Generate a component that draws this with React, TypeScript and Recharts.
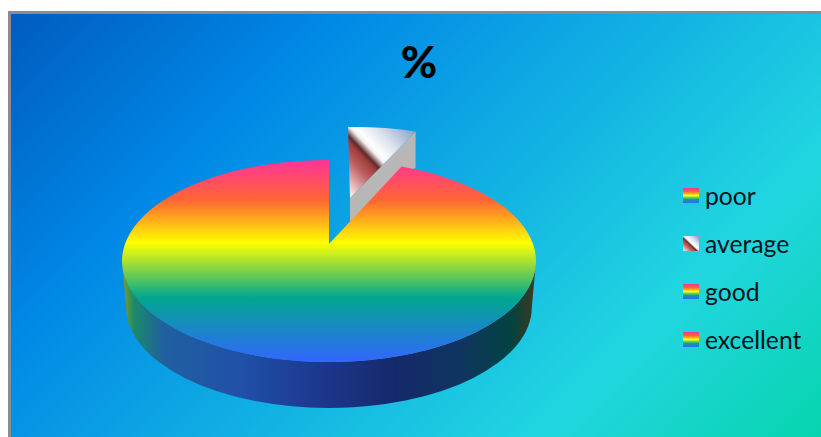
import React from 'react';
import { PieChart, Pie, Cell, Legend } from 'recharts';

const categories = ['poor', 'average', 'good', 'excellent'];
const percentValues = [0, 5.7, 0, 94.3];
const chartTitle = '%';
const explodedCategory = 'average';

const pieData = categories.map((name, i) => ({ name, value: percentValues[i] }));

const TILT = 101 / 207;
const APEX_LIFT = 17;
const DEPTH = 46;
const BASE_SCALE = 0.98;

const ell = (cx: number, cy: number, r: number, deg: number, dx = 0, dy = 0) => {
  const a = (deg * Math.PI) / 180;
  return [cx + r * Math.cos(a) + dx, cy - r * TILT * Math.sin(a) + dy];
};
const f = (n: number) => n.toFixed(2);

function PieSlice(props: any) {
  const { cx, cy, outerRadius: r, startAngle, endAngle, name, payload } = props;
  const label = name ?? payload?.name;
  if (Math.abs(startAngle - endAngle) < 0.01) return null;
  const ry = r * TILT;
  if (label === explodedCategory) {
    const [ax, ay] = ell(cx, cy, r, startAngle, 19, -33);
    const [bx, by] = ell(cx, cy, r, endAngle, 14, -35);
    const apexX = cx + 21;
    const apexY = cy - APEX_LIFT - 46;
    const faceBottomY = apexY + 24;
    return (
      <g>
        <path d={`M${f(bx)} ${f(by)} L${f(bx)} ${f(by + 36)} L${f(apexX)} ${f(faceBottomY)} L${f(apexX)} ${f(apexY)} Z`} fill="#b7b7b7" />
        <path d={`M${f(apexX)} ${f(apexY)} L${f(ax)} ${f(ay)} A${f(r)} ${f(ry)} 0 0 1 ${f(bx)} ${f(by)} Z`} fill="url(#averageFill)" />
      </g>
    );
  }
  const [ax, ay] = ell(cx, cy, r, startAngle);
  const [bx, by] = ell(cx, cy, r, endAngle);
  const large = Math.abs(startAngle - endAngle) > 180 ? 1 : 0;
  const r2 = r * BASE_SCALE;
  const wall = `M${f(cx - r)} ${f(cy)} A${f(r)} ${f(ry)} 0 0 0 ${f(cx + r)} ${f(cy)} L${f(cx + r2)} ${f(cy + DEPTH)} A${f(r2)} ${f(ry)} 0 0 1 ${f(cx - r2)} ${f(cy + DEPTH)} Z`;
  return (
    <g>
      <path d={wall} fill="url(#wallFill)" />
      <path d={`M${f(cx)} ${f(cy - APEX_LIFT)} L${f(ax)} ${f(ay)} A${f(r)} ${f(ry)} 0 ${large} 1 ${f(bx)} ${f(by)} Z`} fill="url(#rainbowFill)" />
    </g>
  );
}

function LegendList({ payload }: any) {
  return (
    <div style={{ fontFamily: 'Lato, sans-serif', fontSize: 24.7, color: '#04121c' }}>
      {(payload || []).map((entry: any) => (
        <div key={entry.value} style={{ height: 48, display: 'flex', alignItems: 'center' }}>
          <svg width={16} height={15} style={{ marginRight: 6, display: 'block' }}>
            <rect width={16} height={15} fill={entry.value === explodedCategory ? 'url(#averageFill)' : 'url(#rainbowSwatch)'} />
          </svg>
          <span>{entry.value}</span>
        </div>
      ))}
    </div>
  );
}

const rainbowStops = [
  ['0', '#ff3399'], ['0.2', '#ff6633'], ['0.41', '#ffff00'], ['0.68', '#01a78f'], ['1', '#3366ff'],
];
const wallStops = [
  ['0', '#7f9a28'], ['0.01', '#5f9a3a'], ['0.03', '#1a8a6a'], ['0.1', '#2060a0'], ['0.29', '#2050a8'],
  ['0.49', '#1c368c'], ['0.66', '#15296a'], ['0.82', '#0f3560'], ['0.94', '#02433f'], ['1', '#3f3a20'],
];
const averageStops = [
  ['0', '#7f96c8'], ['0.12', '#a5b5d5'], ['0.3', '#dbe2ec'], ['0.45', '#ffffff'], ['0.49', '#f0eeee'], ['0.56', '#5e2a2a'],
  ['0.6', '#a03c3c'], ['0.72', '#bf6262'], ['0.9', '#eec9c9'], ['1', '#ffffff'],
];
const stops = (list: string[][]) => list.map(([o, c]) => <stop key={o} offset={o} stopColor={c} />);

export default function App() {
  return (
    <div style={{ position: 'fixed', left: 0, top: 0, width: 821, height: 437, overflow: 'hidden' }}>
      <div
        style={{
          position: 'absolute', left: 8, top: 11, width: 833, height: 446, boxSizing: 'border-box',
          border: '3px solid #8c8c8c',
          background: 'linear-gradient(135deg, #005cbf 0%, #0087e6 25%, #21d6e0 75%, #03d4a8 100%)',
        }}
      />
      <PieChart width={821} height={437} margin={{ top: 0, right: 0, bottom: 0, left: 0 }} style={{ position: 'absolute', left: 0, top: 0 }}>
        <defs>
          <linearGradient id="rainbowFill" x1="0" y1="0" x2="0" y2="1">{stops(rainbowStops)}</linearGradient>
          <linearGradient id="rainbowSwatch" x1="0" y1="0" x2="0" y2="1">
            <stop offset="0" stopColor="#ff3399" /><stop offset="0.25" stopColor="#ff6633" /><stop offset="0.5" stopColor="#ffff00" />
            <stop offset="0.75" stopColor="#01a78f" /><stop offset="1" stopColor="#3366ff" />
          </linearGradient>
          <linearGradient id="wallFill" x1="0" y1="0" x2="1" y2="0">{stops(wallStops)}</linearGradient>
          <linearGradient id="averageFill" x1="1" y1="0" x2="0" y2="1">{stops(averageStops)}</linearGradient>
        </defs>
        <text x={419} y={78} textAnchor="middle" fontFamily="Lato, sans-serif" fontWeight={900} fontSize={44} fill="#000">{chartTitle}</text>
        <Pie
          data={pieData}
          dataKey="value"
          nameKey="name"
          cx={329}
          cy={261}
          outerRadius={207}
          startAngle={90}
          endAngle={-270}
          stroke="none"
          label={false}
          labelLine={false}
          isAnimationActive={false}
          shape={PieSlice}
        >
          {pieData.map((d) => (
            <Cell key={d.name} fill={d.name === explodedCategory ? 'url(#averageFill)' : 'url(#rainbowSwatch)'} />
          ))}
        </Pie>
        <Legend
          layout="vertical"
          content={LegendList}
          itemSorter={null}
          wrapperStyle={{ position: 'absolute', left: 683, top: 171, width: 135, bottom: 'auto' }}
        />
      </PieChart>
    </div>
  );
}
